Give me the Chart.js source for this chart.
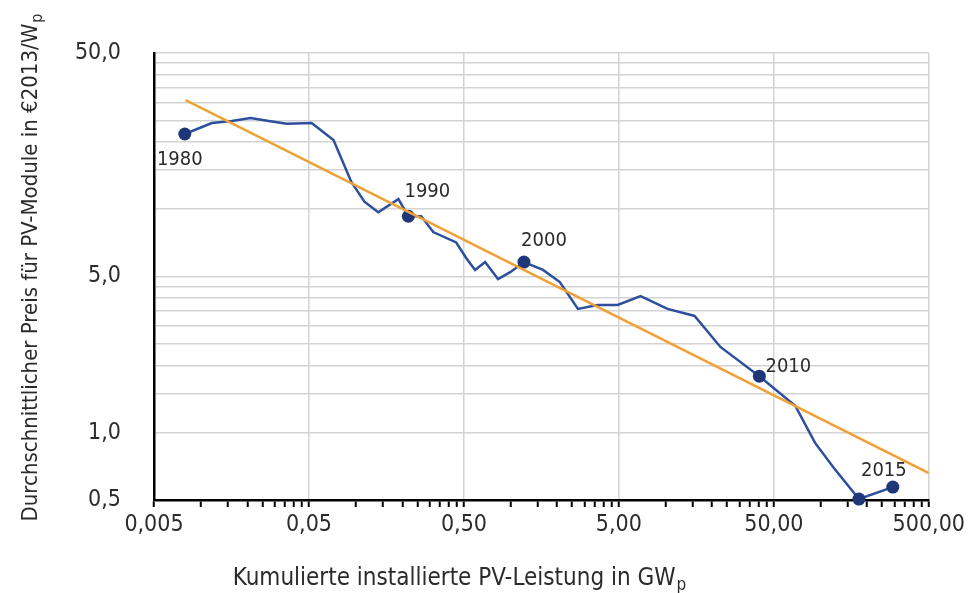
<!DOCTYPE html>
<html>
<head>
<meta charset="utf-8">
<script src="https://cdn.jsdelivr.net/npm/chart.js@4.4.0/dist/chart.umd.min.js"></script>
<style>
    html, body { margin: 0; padding: 0; background: #fff; }
</style>
</head>
<body>
<canvas id="graficoPreisPV" width="969" height="593"></canvas>
<script>
// Werte (log-log Darstellung)
var leistungGW = [0.0079, 0.0118, 0.0159, 0.021, 0.0275, 0.0359, 0.052, 0.072, 0.094, 0.114, 0.14, 0.189,
    0.219, 0.265, 0.317, 0.446, 0.517, 0.59, 0.685, 0.83, 1.0, 1.22, 1.62, 2.08, 2.72, 3.65, 4.91,
    6.9, 10.3, 15.4, 22.6, 40.3, 68.7, 92.3, 122, 177, 293];
var preisEuro = [21.7, 24.3, 24.8, 25.6, 24.8, 24.1, 24.3, 20.4, 13.2, 10.8, 9.7, 11.1,
    9.3, 9.3, 7.9, 7.1, 6.05, 5.35, 5.8, 4.87, 5.24, 5.8, 5.35, 4.72, 3.58, 3.73, 3.73,
    4.09, 3.58, 3.33, 2.42, 1.79, 1.32, 0.9, 0.695, 0.505, 0.571];

// Punkte mit Markierung und Jahreszahl
var jahrIndex = [0, 12, 21, 31, 35, 36];
var jahrLabels = ['1980', '1990', '2000', '2010', '', '2015'];

// Lernkurve (Trendlinie)
var trendLeistung = [0.008, 500];
var trendPreis = [30.8, 0.66];

var xTickWerte = [0.005, 0.05, 0.5, 5, 50, 500];
var xTickLabels = ['0,005', '0,05', '0,50', '5,00', '50,00', '500,00'];
var yTickWerte = [0.5, 1, 5, 50];
var yTickLabels = ['0,5', '1,0', '5,0', '50,0'];

var SCHRIFT = "'Liberation Sans Narrow', 'DejaVu Sans Condensed', 'Liberation Sans', sans-serif";
var BLAU = '#2d4f9e';
var MARKER = '#1f3679';
var ORANGE = '#eea236';
var TEXT = '#2b2b2b';

// Teilstriche: 1..10 x Anfangswert jeder Dekade
function Teilung(starts) {
    var werte = [];
    for (var i = 0; i < starts.length; i++) {
        for (var n = 1; n <= 10; n++) {
            var v = Number((starts[i] * n).toPrecision(6));
            if (werte.indexOf(v) < 0) werte.push(v);
        }
    }
    return werte;
}

var xTeilung = Teilung(xTickWerte.slice(0, -1));
var yTeilung = Teilung([0.5, 5]);

function LabelFuer(wert, werte, labels) {
    for (var i = 0; i < werte.length; i++) {
        if (Math.abs(wert / werte[i] - 1) < 1e-6) return labels[i];
    }
    return '';
}

function PunktPunkte() {
    var punkte = [];
    for (var i = 0; i < leistungGW.length; i++) {
        punkte.push({ x: leistungGW[i], y: preisEuro[i] });
    }
    return punkte;
}

function TrendPunkte() {
    var punkte = [];
    for (var i = 0; i < trendLeistung.length; i++) {
        punkte.push({ x: trendLeistung[i], y: trendPreis[i] });
    }
    return punkte;
}

var radien = leistungGW.map(function (v, i) { return jahrIndex.indexOf(i) >= 0 ? 6.5 : 0; });

// Position der Jahreszahl relativ zum Marker
var jahrVersatz = {
    '1980': [-5, 26],
    '1990': [19, -24],
    '2000': [20, -21],
    '2010': [29, -9],
    '2015': [-9, -16]
};

var beschriftung = {
    id: 'beschriftung',
    afterDraw: function (chart) {
        var ctx = chart.ctx;
        ctx.save();

        // Jahreszahlen
        var meta = chart.getDatasetMeta(1);
        ctx.fillStyle = TEXT;
        ctx.font = '20px ' + SCHRIFT;
        ctx.textAlign = 'center';
        ctx.textBaseline = 'middle';
        for (var i = 0; i < jahrIndex.length; i++) {
            var txt = jahrLabels[i];
            if (!txt) continue;
            var p = meta.data[jahrIndex[i]];
            var off = jahrVersatz[txt];
            ctx.fillText(txt, p.x + off[0], p.y + off[1]);
        }

        // Achsentitel mit tiefgestelltem p
        ctx.textAlign = 'left';
        ctx.textBaseline = 'alphabetic';

        var xText = 'Kumulierte installierte PV-Leistung in GW';
        ctx.font = '24px ' + SCHRIFT;
        var w1 = ctx.measureText(xText).width;
        ctx.font = '17px ' + SCHRIFT;
        var w2 = ctx.measureText('p').width;
        var x0 = 459 - (w1 + w2) / 2;
        ctx.font = '24px ' + SCHRIFT;
        ctx.fillText(xText, x0, 585);
        ctx.font = '17px ' + SCHRIFT;
        ctx.fillText('p', x0 + w1 + 1, 590);

        var yText = 'Durchschnittlicher Preis für PV-Module in €2013/W';
        ctx.translate(37, 268);
        ctx.rotate(-Math.PI / 2);
        ctx.font = '22px ' + SCHRIFT;
        w1 = ctx.measureText(yText).width;
        ctx.font = '16px ' + SCHRIFT;
        w2 = ctx.measureText('p').width;
        x0 = -(w1 + w2) / 2;
        ctx.font = '22px ' + SCHRIFT;
        ctx.fillText(yText, x0, 0);
        ctx.font = '16px ' + SCHRIFT;
        ctx.fillText('p', x0 + w1 + 1, 5);

        ctx.restore();
    }
};

new Chart(document.getElementById('graficoPreisPV'), {
    type: 'line',
    data: {
        datasets: [
            {
                label: 'Trend',
                data: TrendPunkte(),
                borderColor: ORANGE,
                borderWidth: 2.5,
                pointRadius: 0,
                fill: false
            },
            {
                label: 'Preis',
                data: PunktPunkte(),
                borderColor: BLAU,
                borderWidth: 2.5,
                pointRadius: radien,
                pointBackgroundColor: MARKER,
                pointBorderColor: MARKER,
                pointBorderWidth: 0,
                pointStyle: 'circle',
                tension: 0,
                fill: false,
                clip: false
            }
        ]
    },
    options: {
        responsive: false,
        animation: false,
        layout: { padding: { left: 0, right: 37, top: 53, bottom: 0 } },
        plugins: {
            legend: { display: false },
            tooltip: { enabled: false }
        },
        scales: {
            x: {
                type: 'logarithmic',
                min: 0.005,
                max: 500,
                afterBuildTicks: function (scale) {
                    scale.ticks = xTeilung.map(function (v) { return { value: v }; });
                },
                afterFit: function (scale) { scale.height = 93; },
                grid: {
                    color: function (c) {
                        return LabelFuer(c.tick.value, xTickWerte, xTickLabels) ? '#d3d3d3' : 'rgba(0,0,0,0)';
                    },
                    lineWidth: 1.5,
                    tickColor: '#000',
                    tickLength: 7,
                    tickWidth: 2
                },
                border: { color: '#000', width: 2.5 },
                ticks: {
                    autoSkip: false,
                    maxRotation: 0,
                    padding: 4,
                    color: TEXT,
                    font: { family: SCHRIFT, size: 23 },
                    callback: function (v) { return LabelFuer(v, xTickWerte, xTickLabels); }
                }
            },
            y: {
                type: 'logarithmic',
                min: 0.5,
                max: 50,
                afterBuildTicks: function (scale) {
                    scale.ticks = yTeilung.map(function (v) { return { value: v }; });
                },
                afterFit: function (scale) { scale.width = 154; },
                grid: {
                    color: '#d3d3d3',
                    lineWidth: 1.5,
                    drawTicks: false
                },
                border: { color: '#000', width: 2.5 },
                ticks: {
                    autoSkip: false,
                    padding: 33,
                    color: TEXT,
                    font: { family: SCHRIFT, size: 23 },
                    callback: function (v) { return LabelFuer(v, yTickWerte, yTickLabels); }
                }
            }
        }
    },
    plugins: [beschriftung]
});
</script>
</body>
</html>
